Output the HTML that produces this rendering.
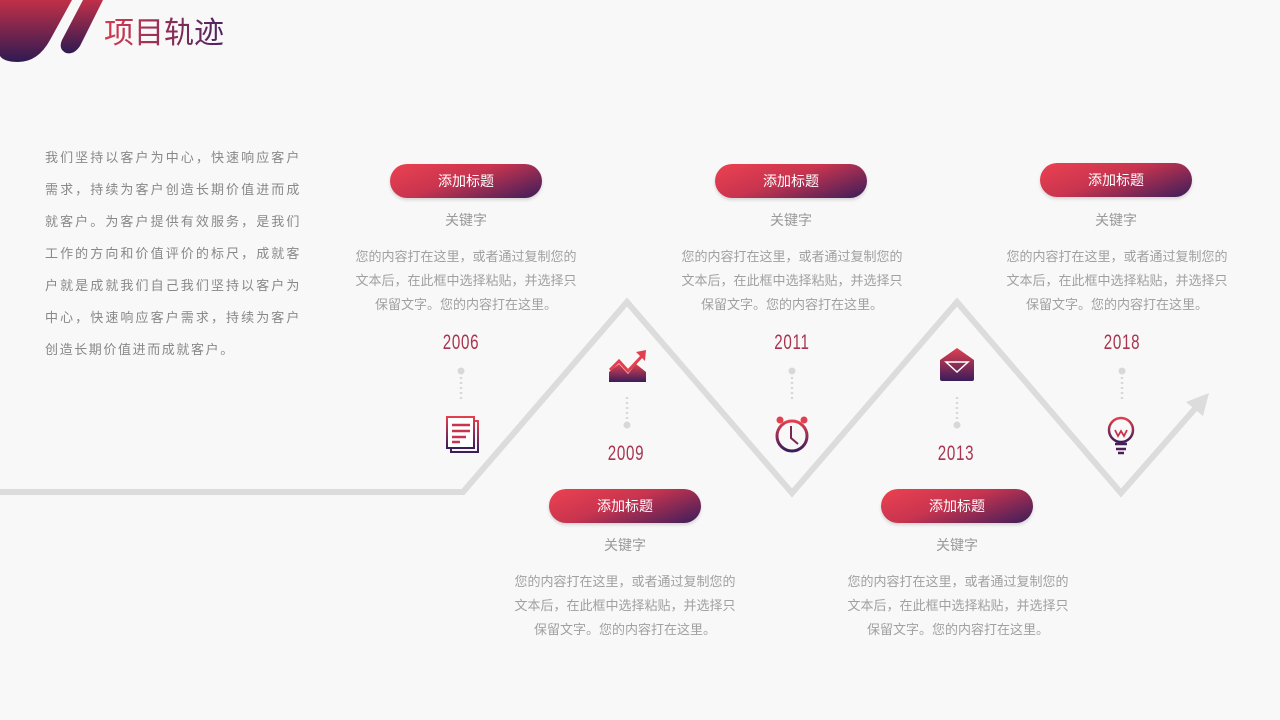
<!DOCTYPE html>
<html><head><meta charset="utf-8"><style>
body{margin:0;width:1280px;height:720px;background:#f8f8f8;position:relative;overflow:hidden;font-family:"Liberation Sans","Noto Sans CJK SC",sans-serif}
.abs{position:absolute}
.btn{position:absolute;width:152px;height:34px;border-radius:17px;background:linear-gradient(160deg,#ec4250 0%,#c8344f 45%,#3b1d5a 100%);color:#fff;font-size:14px;line-height:34px;text-align:center;box-shadow:0 2px 3px rgba(0,0,0,.15)}
.kw{position:absolute;width:200px;text-align:center;font-size:14px;color:#999}
.ds{position:absolute;width:226px;text-align:center;font-size:13px;line-height:24px;color:#a0a0a0}
.yr{position:absolute;width:80px;text-align:center;font-size:21px;color:#a8344f;transform:scaleX(.72);letter-spacing:1px}
.left{position:absolute;left:45px;top:142px;width:256px;font-size:13px;line-height:32px;color:#888;letter-spacing:1.6px;text-align:justify}
</style></head><body>
<svg class="abs" style="left:0;top:0" width="1280" height="720">
<defs>
<linearGradient id="g" x1="0" y1="0" x2="0" y2="1"><stop offset="0" stop-color="#e2404f"/><stop offset="1" stop-color="#3a1d5a"/></linearGradient>
<linearGradient id="gl" x1="0" y1="0" x2="0" y2="1"><stop offset="0" stop-color="#c03048"/><stop offset="1" stop-color="#2f1a52"/></linearGradient>
</defs>
<path d="M0 0 H72 L50 40 Q38 62 18 62 Q4 62 0 56 Z" fill="url(#gl)"/>
<path d="M83 0 H103 L80 46 Q74 55 66 53 Q58 49 62 40 Z" fill="url(#gl)"/>
<polyline points="0,492 463,492 627,302 792,493 957,302 1121,493 1200,403" fill="none" stroke="#dcdcdc" stroke-width="6"/>
<polygon points="1209,393 1186,402 1203,416" fill="#dcdcdc"/>
<g fill="#d8d8d8">
<circle cx="461" cy="371" r="3.5"/><circle cx="627" cy="425" r="3.5"/><circle cx="792" cy="371" r="3.5"/><circle cx="957" cy="425" r="3.5"/><circle cx="1122" cy="371" r="3.5"/>
</g>
<g stroke="#d8d8d8" stroke-width="2.5" stroke-dasharray="2 3">
<line x1="461" y1="377" x2="461" y2="400"/><line x1="627" y1="397" x2="627" y2="420"/><line x1="792" y1="377" x2="792" y2="400"/><line x1="957" y1="397" x2="957" y2="420"/><line x1="1122" y1="377" x2="1122" y2="400"/>
</g>
<rect x="451" y="421" width="27" height="31" fill="none" stroke="url(#g)" stroke-width="2"/>
<rect x="447" y="417" width="27" height="31" fill="#fff" stroke="url(#g)" stroke-width="2"/>
<g stroke="#c8344f" stroke-width="2.5"><line x1="452" y1="425" x2="470" y2="425"/><line x1="452" y1="431" x2="470" y2="431"/><line x1="452" y1="437" x2="466" y2="437"/><line x1="452" y1="442" x2="460" y2="442"/></g>
<path d="M609 382 V372 L619 364 L628 374 L636 364 L646 372 V382 Z" fill="url(#g)"/>
<polyline points="610,370 619,361 628,371 643,355" fill="none" stroke="#e2404f" stroke-width="3"/>
<polygon points="646,350 636,352 645,361" fill="#e2404f"/>
<circle cx="792" cy="436" r="15" fill="none" stroke="url(#g)" stroke-width="3"/>
<polyline points="791,426 791,438 798,444" fill="none" stroke="#7a2850" stroke-width="2"/>
<circle cx="780" cy="420" r="3.5" fill="#e2404f"/><circle cx="804" cy="420" r="3.5" fill="#e2404f"/>
<path d="M940 360 L957 348 L974 360 V379 Q974 381 972 381 H942 Q940 381 940 379 Z" fill="url(#g)"/>
<path d="M946 362 H968 L957 372 Z" fill="none" stroke="#fff" stroke-width="1.5"/>
<circle cx="1121" cy="430" r="12" fill="none" stroke="url(#g)" stroke-width="2.5"/>
<polyline points="1115,430 1118,436 1121,431 1124,436 1127,430" fill="none" stroke="#c8344f" stroke-width="1.8"/>
<g stroke="#4a2058" stroke-width="2.5"><line x1="1115" y1="444" x2="1127" y2="444"/><line x1="1116" y1="449" x2="1126" y2="449"/><line x1="1118" y1="453" x2="1124" y2="453"/></g>
</svg>
<div class="abs" style="left:104px;top:14px;font-size:30px;line-height:40px;background:linear-gradient(90deg,#d83a4e,#4a2460);-webkit-background-clip:text;background-clip:text;color:transparent">项目轨迹</div>
<div class="left">我们坚持以客户为中心，快速响应客户需求，持续为客户创造长期价值进而成就客户。为客户提供有效服务，是我们工作的方向和价值评价的标尺，成就客户就是成就我们自己我们坚持以客户为中心，快速响应客户需求，持续为客户创造长期价值进而成就客户。</div>

<div class="btn" style="left:390px;top:164px">添加标题</div>
<div class="kw" style="left:366px;top:210px">关键字</div>
<div class="ds" style="left:353px;top:245px">您的内容打在这里，或者通过复制您的文本后，在此框中选择粘贴，并选择只保留文字。您的内容打在这里。</div>
<div class="yr" style="left:421px;top:331px">2006</div>

<div class="btn" style="left:715px;top:164px">添加标题</div>
<div class="kw" style="left:691px;top:210px">关键字</div>
<div class="ds" style="left:679px;top:245px">您的内容打在这里，或者通过复制您的文本后，在此框中选择粘贴，并选择只保留文字。您的内容打在这里。</div>
<div class="yr" style="left:752px;top:331px">2011</div>

<div class="btn" style="left:1040px;top:163px">添加标题</div>
<div class="kw" style="left:1016px;top:210px">关键字</div>
<div class="ds" style="left:1004px;top:245px">您的内容打在这里，或者通过复制您的文本后，在此框中选择粘贴，并选择只保留文字。您的内容打在这里。</div>
<div class="yr" style="left:1082px;top:331px">2018</div>

<div class="yr" style="left:586px;top:442px">2009</div>
<div class="btn" style="left:549px;top:489px">添加标题</div>
<div class="kw" style="left:525px;top:535px">关键字</div>
<div class="ds" style="left:512px;top:570px">您的内容打在这里，或者通过复制您的文本后，在此框中选择粘贴，并选择只保留文字。您的内容打在这里。</div>

<div class="yr" style="left:916px;top:442px">2013</div>
<div class="btn" style="left:881px;top:489px">添加标题</div>
<div class="kw" style="left:857px;top:535px">关键字</div>
<div class="ds" style="left:845px;top:570px">您的内容打在这里，或者通过复制您的文本后，在此框中选择粘贴，并选择只保留文字。您的内容打在这里。</div>
</body></html>
